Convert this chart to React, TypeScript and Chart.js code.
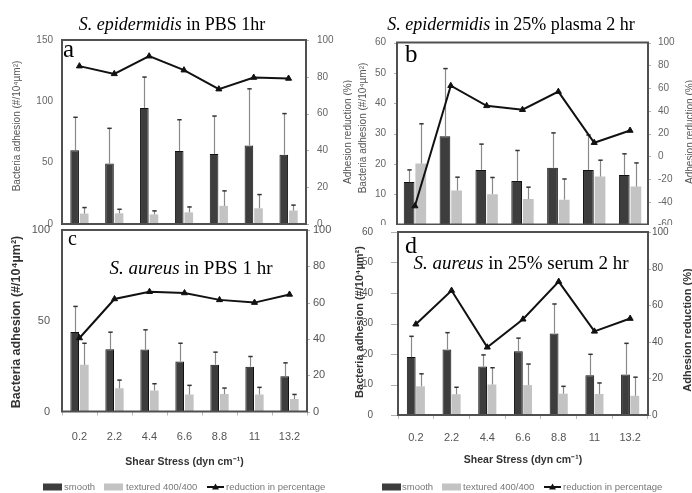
import React, { useEffect, useRef } from 'react';
import { Chart, registerables } from 'chart.js';

Chart.register(...registerables);

// ---------------- data ----------------
const categories = ['0.2', '2.2', '4.4', '6.6', '8.8', '11', '13.2'];

const aSmooth = [60.2, 49.3, 94.5, 59.5, 57.0, 64.0, 56.5];
const aSmoothErr = [87.0, 78.0, 119.8, 85.0, 88.0, 110.2, 90.0];
const aTextured = [8.5, 8.7, 7.8, 9.5, 14.8, 12.8, 11.0];
const aTexturedErr = [13.4, 12.0, 10.7, 13.9, 27.0, 24.0, 15.4];
const aReduction = [85.8, 81.6, 91.2, 83.6, 73.3, 79.6, 79.1];

const bSmooth = [14.0, 29.1, 18.0, 14.3, 18.7, 18.0, 16.3];
const bSmoothErr = [18.0, 51.4, 26.5, 24.4, 30.2, 29.5, 23.3];
const bTextured = [20.1, 11.2, 10.0, 8.4, 8.2, 15.8, 12.5];
const bTexturedErr = [33.2, 15.6, 15.5, 12.3, 15.0, 21.2, 20.3];
const bReduction = [-43.8, 62.0, 44.3, 40.9, 56.8, 11.9, 22.6];

const cSmooth = [43.8, 34.3, 34.1, 27.6, 25.8, 24.7, 19.4];
const cSmoothErr = [57.9, 43.7, 45.0, 37.6, 32.7, 30.3, 26.8];
const cTextured = [25.7, 12.8, 11.6, 9.4, 9.6, 9.4, 6.9];
const cTexturedErr = [37.6, 17.3, 15.3, 14.4, 12.9, 13.3, 9.4];
const cReduction = [40.5, 62.0, 66.0, 65.3, 61.5, 60.0, 64.5];

const dSmooth = [19.0, 21.5, 15.9, 20.9, 26.7, 13.0, 13.3];
const dSmoothErr = [25.8, 27.0, 19.7, 25.2, 36.4, 19.9, 23.5];
const dTextured = [9.4, 6.8, 10.0, 9.8, 7.0, 6.9, 6.3];
const dTexturedErr = [13.5, 9.1, 15.5, 16.7, 9.4, 10.5, 12.4];
const dReduction = [49.6, 68.0, 37.0, 52.3, 72.9, 45.7, 52.7];

const seriesNames = ['smooth', 'textured 400/400', 'reduction in percentage'];
const leftAxisTitle = 'Bacteria adhesion (#/10⁴µm²)';
const rightAxisTitle = 'Adhesion reduction (%)';
const xAxisTitle = 'Shear Stress (dyn cm⁻¹)';

// ---------------- styling ----------------
const SANS = '"Liberation Sans", Arial, sans-serif';
const SERIF = '"Liberation Serif", "Times New Roman", serif';
const SMOOTH_FILL = '#3d3d3d';
const TEXTURED_FILL = '#c3c3c3';

type Panel = {
  box: { left: number; top: number; w: number; h: number };
  plot: { l: number; t: number; r: number; b: number };
  white: boolean;
  smooth: number[]; smoothErr: number[]; textured: number[]; texturedErr: number[]; reduction: number[];
  yMax: number; yStep: number; y1Min: number; y1Max: number; y1Step: number;
  catPct: number; barPct: number;
  tickFont: number; tickColor: string;
  leftGap: number; leftMark: number; rightGap: number; rightMark: number;
  showX: boolean; xPad: number;
  title: { it: string; rest: string; size: number; cx: number; by: number };
  letter: { t: string; size: number; x: number; by: number };
  leftTitle: { x: number; y: number; font: string; color: string };
  rightTitle?: { x: number; y: number; font: string; color: string };
  xTitle?: { y: number };
  legend?: { y: number; box1: number; box2: number; line: number; t1: number; t2: number; t3: number };
};

const panels: Panel[] = [
  {
    box: { left: 0, top: 0, w: 352, h: 232 }, plot: { l: 62, t: 40, r: 306, b: 224 }, white: false,
    smooth: aSmooth, smoothErr: aSmoothErr, textured: aTextured, texturedErr: aTexturedErr, reduction: aReduction,
    yMax: 150, yStep: 50, y1Min: 0, y1Max: 100, y1Step: 20, catPct: 0.55, barPct: 0.9,
    tickFont: 10, tickColor: '#666', leftGap: 9, leftMark: 0, rightGap: 11, rightMark: 3, showX: false, xPad: 0,
    title: { it: 'S. epidermidis', rest: ' in PBS 1hr', size: 18, cx: 172, by: 30 },
    letter: { t: 'a', size: 25, x: 63, by: 57 },
    leftTitle: { x: 17.5, y: 126, font: `10px ${SANS}`, color: '#555' },
    rightTitle: { x: 348, y: 132, font: `10px ${SANS}`, color: '#555' },
  },
  {
    box: { left: 352, top: 0, w: 340, h: 232 }, plot: { l: 397, t: 42.5, r: 648, b: 224.5 }, white: true,
    smooth: bSmooth, smoothErr: bSmoothErr, textured: bTextured, texturedErr: bTexturedErr, reduction: bReduction,
    yMax: 60, yStep: 10, y1Min: -60, y1Max: 100, y1Step: 20, catPct: 0.65, barPct: 0.92,
    tickFont: 10, tickColor: '#666', leftGap: 11, leftMark: 3, rightGap: 10, rightMark: 3, showX: false, xPad: 0,
    title: { it: 'S. epidermidis', rest: ' in 25% plasma 2 hr', size: 18, cx: 511, by: 30 },
    letter: { t: 'b', size: 25, x: 405, by: 62 },
    leftTitle: { x: 363, y: 128, font: `10px ${SANS}`, color: '#555' },
    rightTitle: { x: 690, y: 132, font: `10px ${SANS}`, color: '#555' },
  },
  {
    box: { left: 0, top: 222, w: 352, h: 271 }, plot: { l: 62, t: 230, r: 307, b: 411.5 }, white: false,
    smooth: cSmooth, smoothErr: cSmoothErr, textured: cTextured, texturedErr: cTexturedErr, reduction: cReduction,
    yMax: 100, yStep: 50, y1Min: 0, y1Max: 100, y1Step: 20, catPct: 0.55, barPct: 0.9,
    tickFont: 11, tickColor: '#555', leftGap: 12, leftMark: 0, rightGap: 6, rightMark: 3, showX: true, xPad: 15,
    title: { it: 'S. aureus', rest: ' in PBS 1 hr', size: 19, cx: 191, by: 274 },
    letter: { t: 'c', size: 20, x: 68, by: 245 },
    leftTitle: { x: 17, y: 322, font: `bold 12.5px ${SANS}`, color: '#333' },
    xTitle: { y: 462 },
    legend: { y: 487, box1: 43, box2: 104, line: 207, t1: 64, t2: 126, t3: 226 },
  },
  {
    box: { left: 352, top: 225, w: 340, h: 268 }, plot: { l: 398, t: 232, r: 648, b: 415 }, white: true,
    smooth: dSmooth, smoothErr: dSmoothErr, textured: dTextured, texturedErr: dTexturedErr, reduction: dReduction,
    yMax: 60, yStep: 10, y1Min: 0, y1Max: 100, y1Step: 20, catPct: 0.52, barPct: 0.95,
    tickFont: 10, tickColor: '#555', leftGap: 25, leftMark: 7, rightGap: 4, rightMark: 3, showX: true, xPad: 12,
    title: { it: 'S. aureus', rest: ' in 25% serum 2 hr', size: 19, cx: 521, by: 269 },
    letter: { t: 'd', size: 24, x: 405, by: 253 },
    leftTitle: { x: 360, y: 322, font: `bold 11px ${SANS}`, color: '#333' },
    rightTitle: { x: 688, y: 330, font: `bold 11px ${SANS}`, color: '#333' },
    xTitle: { y: 460 },
    legend: { y: 487, box1: 382, box2: 442, line: 544, t1: 402, t2: 463, t3: 563 },
  },
];

// error bars drawn from each bar top up to the upper error value
const errorBarPlugin = {
  id: 'errorBars',
  afterDatasetDraw(chart: any, args: any) {
    const ds = chart.data.datasets[args.index];
    if (!ds.errorTops) return;
    const yScale = chart.scales[ds.yAxisID || 'y'];
    const ctx = chart.ctx;
    ctx.save();
    args.meta.data.forEach((bar: any, i: number) => {
      const x = Math.round(bar.x) + 0.5;
      const yErr = yScale.getPixelForValue(ds.errorTops[i]);
      ctx.strokeStyle = '#8a8a8a';
      ctx.lineWidth = 1.2;
      ctx.beginPath();
      ctx.moveTo(x, bar.y);
      ctx.lineTo(x, yErr);
      ctx.stroke();
      ctx.strokeStyle = '#333';
      ctx.lineWidth = 1.5;
      ctx.beginPath();
      ctx.moveTo(x - 2.2, yErr);
      ctx.lineTo(x + 2.2, yErr);
      ctx.stroke();
    });
    ctx.restore();
  },
};

function PanelChart({ p }: { p: Panel }) {
  const ref = useRef<HTMLCanvasElement>(null);
  useEffect(() => {
    const canvas = ref.current!;
    const ox = p.box.left;
    const oy = p.box.top;
    const rot = (ctx: CanvasRenderingContext2D, text: string, x: number, y: number, font: string, color: string) => {
      ctx.save();
      ctx.translate(x - ox, y - oy);
      ctx.rotate(-Math.PI / 2);
      ctx.font = font;
      ctx.fillStyle = color;
      ctx.textAlign = 'center';
      ctx.textBaseline = 'middle';
      ctx.fillText(text, 0, 0);
      ctx.restore();
    };
    const overlay = {
      id: 'overlay',
      beforeDraw(chart: any) {
        if (!p.white) return;
        const ctx = chart.ctx;
        ctx.save();
        ctx.fillStyle = '#ffffff';
        ctx.fillRect(0, 0, chart.width, chart.height);
        ctx.restore();
      },
      afterDraw(chart: any) {
        const ctx: CanvasRenderingContext2D = chart.ctx;
        const a = chart.chartArea;
        ctx.save();
        // y tick marks (outside the frame)
        ctx.strokeStyle = '#b0b0b0';
        ctx.lineWidth = 1;
        const marks = (scale: any, x0: number, len: number) => {
          if (!len) return;
          scale.ticks.forEach((t: any) => {
            const y = Math.round(scale.getPixelForValue(t.value)) + 0.5;
            ctx.beginPath();
            ctx.moveTo(x0, y);
            ctx.lineTo(x0 + len, y);
            ctx.stroke();
          });
        };
        marks(chart.scales.y, a.left - p.leftMark, p.leftMark);
        marks(chart.scales.y1, a.right, p.rightMark);
        // frame
        ctx.strokeStyle = '#505050';
        ctx.lineWidth = 2;
        ctx.strokeRect(a.left, a.top, a.right - a.left, a.bottom - a.top);
        // title (italic species + normal rest)
        ctx.fillStyle = '#000';
        ctx.textBaseline = 'alphabetic';
        ctx.textAlign = 'left';
        const fi = `italic ${p.title.size}px ${SERIF}`;
        const fn = `${p.title.size}px ${SERIF}`;
        ctx.font = fi;
        const wi = ctx.measureText(p.title.it).width;
        ctx.font = fn;
        const wn = ctx.measureText(p.title.rest).width;
        const x0 = p.title.cx - (wi + wn) / 2 - ox;
        ctx.font = fi;
        ctx.fillText(p.title.it, x0, p.title.by - oy);
        ctx.font = fn;
        ctx.fillText(p.title.rest, x0 + wi, p.title.by - oy);
        // panel letter
        ctx.font = `${p.letter.size}px ${SERIF}`;
        ctx.fillText(p.letter.t, p.letter.x - ox, p.letter.by - oy);
        // axis titles
        rot(ctx, leftAxisTitle, p.leftTitle.x, p.leftTitle.y, p.leftTitle.font, p.leftTitle.color);
        if (p.rightTitle) rot(ctx, rightAxisTitle, p.rightTitle.x, p.rightTitle.y, p.rightTitle.font, p.rightTitle.color);
        if (p.xTitle) {
          ctx.font = `bold 10.5px ${SANS}`;
          ctx.fillStyle = '#333';
          ctx.textAlign = 'center';
          ctx.textBaseline = 'middle';
          ctx.fillText(xAxisTitle, (a.left + a.right) / 2, p.xTitle.y - oy);
        }
        if (p.legend) {
          const L = p.legend;
          const y = L.y - oy;
          ctx.fillStyle = SMOOTH_FILL;
          ctx.fillRect(L.box1 - ox, y - 3.5, 19, 7);
          ctx.fillStyle = TEXTURED_FILL;
          ctx.fillRect(L.box2 - ox, y - 3.5, 19, 7);
          ctx.strokeStyle = '#111';
          ctx.lineWidth = 2;
          ctx.beginPath();
          ctx.moveTo(L.line - ox, y);
          ctx.lineTo(L.line + 17 - ox, y);
          ctx.stroke();
          const cx = L.line + 8.5 - ox;
          ctx.fillStyle = '#111';
          ctx.beginPath();
          ctx.moveTo(cx, y - 3.5);
          ctx.lineTo(cx + 3.5, y + 2.5);
          ctx.lineTo(cx - 3.5, y + 2.5);
          ctx.closePath();
          ctx.fill();
          ctx.font = `9.5px ${SANS}`;
          ctx.fillStyle = '#777';
          ctx.textAlign = 'left';
          ctx.textBaseline = 'middle';
          ctx.fillText(seriesNames[0], L.t1 - ox, y);
          ctx.fillText(seriesNames[1], L.t2 - ox, y);
          ctx.fillText(seriesNames[2], L.t3 - ox, y);
        }
        ctx.restore();
      },
    };

    const tickFont = { family: SANS, size: p.tickFont };
    const chart = new Chart(canvas, {
      type: 'bar',
      data: {
        labels: categories,
        datasets: [
          {
            type: 'line',
            label: seriesNames[2],
            data: p.reduction,
            yAxisID: 'y1',
            order: 0,
            borderColor: '#111',
            backgroundColor: '#111',
            borderWidth: 2,
            pointStyle: 'triangle',
            pointRadius: 3.5,
            pointBorderWidth: 1,
            tension: 0,
          } as any,
          {
            type: 'bar',
            label: seriesNames[0],
            data: p.smooth,
            errorTops: p.smoothErr,
            yAxisID: 'y',
            order: 1,
            backgroundColor: SMOOTH_FILL,
            borderColor: '#111',
            borderWidth: 1,
            categoryPercentage: p.catPct,
            barPercentage: p.barPct,
          } as any,
          {
            type: 'bar',
            label: seriesNames[1],
            data: p.textured,
            errorTops: p.texturedErr,
            yAxisID: 'y',
            order: 2,
            backgroundColor: TEXTURED_FILL,
            borderWidth: 0,
            categoryPercentage: p.catPct,
            barPercentage: p.barPct,
          } as any,
        ],
      },
      options: {
        responsive: false,
        animation: false,
        events: [],
        layout: { padding: { top: p.plot.t - p.box.top, left: 0, right: 0, bottom: 0 } },
        plugins: { legend: { display: false }, tooltip: { enabled: false }, title: { display: false } },
        scales: {
          x: {
            type: 'category',
            offset: true,
            border: { display: false },
            grid: { display: p.showX, drawOnChartArea: false, offset: true, tickLength: 4, color: '#bbb' },
            ticks: { display: p.showX, font: { family: SANS, size: 11 }, color: '#555', padding: p.xPad, maxRotation: 0, autoSkip: false },
            afterFit: (s: any) => { s.height = p.box.top + p.box.h - p.plot.b; },
          },
          y: {
            position: 'left',
            min: 0,
            max: p.yMax,
            border: { display: false },
            grid: { drawOnChartArea: false, tickLength: p.leftGap, tickColor: 'rgba(0,0,0,0)' },
            ticks: { stepSize: p.yStep, font: tickFont, color: p.tickColor, padding: 0 },
            afterFit: (s: any) => { s.width = p.plot.l - p.box.left; },
          },
          y1: {
            position: 'right',
            min: p.y1Min,
            max: p.y1Max,
            border: { display: false },
            grid: { drawOnChartArea: false, tickLength: p.rightGap, tickColor: 'rgba(0,0,0,0)' },
            ticks: { stepSize: p.y1Step, font: tickFont, color: p.tickColor, padding: 0 },
            afterFit: (s: any) => { s.width = p.box.left + p.box.w - p.plot.r; },
          },
        },
      } as any,
      plugins: [errorBarPlugin, overlay],
    });
    return () => chart.destroy();
  }, [p]);

  return (
    <canvas
      ref={ref}
      width={p.box.w}
      height={p.box.h}
      style={{ position: 'absolute', left: p.box.left, top: p.box.top, width: p.box.w, height: p.box.h }}
    />
  );
}

export default function App() {
  return (
    <div style={{ position: 'absolute', left: 0, top: 0, width: 692, height: 493, background: '#fff', overflow: 'hidden' }}>
      {panels.map((p, i) => (
        <PanelChart key={i} p={p} />
      ))}
    </div>
  );
}
